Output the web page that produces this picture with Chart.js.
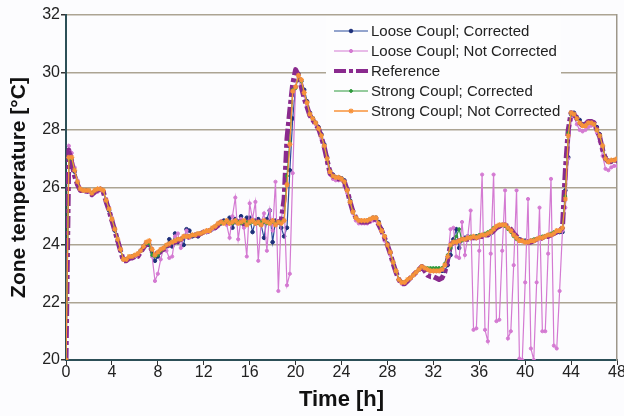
<!DOCTYPE html>
<html>
<head>
<meta charset="utf-8">
<title>Zone temperature</title>
<script src="https://cdn.jsdelivr.net/npm/chart.js@4.4.1/dist/chart.umd.min.js"></script>
<style>
  html, body { margin: 0; padding: 0; background: #fcfcfe; }
  #wrap { width: 624px; height: 416px; }
</style>
</head>
<body>
<div id="wrap"><canvas id="zoneChart"></canvas></div>
<script>
// Series names, in legend order
const seriesNames = [
    'Loose Coupl; Corrected',
    'Loose Coupl; Not Corrected',
    'Reference',
    'Strong Coupl; Corrected',
    'Strong Coupl; Not Corrected'
];

// Zone temperature [°C], one value every 15 min from 0 h to 48 h (4 values per row = 1 h)
const reference = [
    20.0, 27.3, 26.85, 26.4,    // 0 h
    26.1, 25.9, 25.9, 25.9,
    25.85, 25.75, 25.85, 25.9,
    25.95, 25.85, 25.5, 25.2,
    24.85, 24.5, 24.15, 23.8,   // 4 h
    23.45, 23.45, 23.55, 23.55,
    23.6, 23.6, 23.75, 23.9,
    24.05, 24.0, 23.8, 23.7,
    23.7, 23.8, 23.85, 23.95,   // 8 h
    24.0, 24.05, 24.1, 24.15,
    24.2, 24.25, 24.25, 24.3,
    24.3, 24.35, 24.35, 24.4,
    24.45, 24.45, 24.5, 24.55,  // 12 h
    24.6, 24.7, 24.8, 24.8,
    24.8, 24.8, 24.85, 24.8,
    24.8, 24.8, 24.75, 24.8,
    24.8, 24.75, 24.8, 24.8,    // 16 h
    24.8, 24.8, 24.75, 24.8,
    24.8, 24.75, 24.8, 24.85,
    25.6, 27.7, 28.7, 29.6,
    30.1, 29.9, 29.5, 29.1,     // 20 h
    28.8, 28.5, 28.35, 28.2,
    28.05, 27.75, 27.4, 26.95,
    26.5, 26.4, 26.33, 26.3,
    26.32, 26.2, 25.9, 25.5,    // 24 h
    25.15, 24.95, 24.85, 24.8,
    24.8, 24.8, 24.85, 24.9,
    24.9, 24.7, 24.5, 24.25,
    24.0, 23.7, 23.35, 23.05,   // 28 h
    22.8, 22.65, 22.65, 22.75,
    22.85, 22.95, 23.05, 23.15,
    23.25, 23.1, 22.95, 22.9,
    22.9, 22.85, 22.8, 22.85,   // 32 h
    23.05, 23.5, 24.0, 24.1,
    24.1, 24.15, 24.15, 24.2,
    24.2, 24.25, 24.25, 24.25,
    24.3, 24.3, 24.35, 24.35,   // 36 h
    24.4, 24.5, 24.6, 24.65,
    24.7, 24.7, 24.65, 24.55,
    24.4, 24.3, 24.2, 24.15,
    24.15, 24.1, 24.1, 24.15,   // 40 h
    24.2, 24.2, 24.25, 24.3,
    24.3, 24.35, 24.4, 24.45,
    24.5, 24.6, 26.6, 28.0,
    28.6, 28.55, 28.4, 28.25,   // 44 h
    28.15, 28.2, 28.3, 28.3,
    28.25, 28.0, 27.75, 27.3,
    27.0, 26.9, 26.9, 26.95,
    26.95                       // 48 h
];

const looseCorrected = [
    20.0, 27.0, 26.95, 26.55,
    26.15, 25.95, 25.9, 25.85,
    25.85, 25.8, 25.85, 25.9,
    25.95, 25.85, 25.5, 25.2,
    24.85, 24.5, 24.15, 23.8,
    23.5, 23.5, 23.55, 23.6,
    23.6, 23.65, 23.8, 23.95,
    24.05, 24.0, 23.75, 23.45,
    23.6, 23.75, 23.85, 23.95,
    24.2, 23.95, 24.4, 24.1,
    24.2, 24.0, 24.55, 24.5,
    24.3, 24.35, 24.3, 24.4,
    24.45, 24.45, 24.5, 24.55,
    24.6, 24.7, 24.75, 24.85,
    24.8, 24.95, 24.6, 24.9,
    24.8, 25.0, 24.7, 24.95,
    24.95, 24.45, 24.85, 24.9,
    24.7, 24.25, 24.9, 25.2,
    24.1, 24.85, 24.8, 24.6,
    24.3, 24.6, 26.6, 28.4,
    29.5, 29.95, 29.7, 29.4,
    29.0, 28.6, 28.4, 28.25,
    28.1, 27.85, 27.5, 27.05,
    26.6, 26.45, 26.35, 26.35,
    26.32, 26.25, 25.95, 25.55,
    25.2, 24.95, 24.85, 24.8,
    24.8, 24.85, 24.85, 24.95,
    24.95, 24.8, 24.55, 24.3,
    24.05, 23.75, 23.4, 23.1,
    22.8, 22.7, 22.7, 22.75,
    22.85, 22.95, 23.05, 23.15,
    23.25, 23.2, 23.15, 23.1,
    23.1, 23.1, 23.1, 23.1,
    23.1, 23.3, 23.65, 24.2,
    24.55, 23.9, 24.2, 24.25,
    24.3, 24.25, 24.25, 24.3,
    24.3, 24.3, 24.35, 24.4,
    24.4, 24.5, 24.6, 24.65,
    24.7, 24.7, 24.6, 24.5,
    24.35, 24.25, 24.2, 24.15,
    24.15, 24.1, 24.15, 24.15,
    24.2, 24.25, 24.25, 24.3,
    24.3, 24.35, 24.4, 24.45,
    24.45, 24.45, 25.9, 27.05,
    28.55, 28.6, 28.45, 28.35,
    28.2, 28.15, 28.25, 28.3,
    28.25, 28.1, 27.85, 27.4,
    27.05, 26.9, 26.9, 26.95,
    26.95
];

const looseNotCorrected = [
    20.0, 27.45, 27.2, 26.7,
    26.25, 25.95, 25.9, 25.85,
    25.85, 25.75, 25.8, 25.85,
    25.9, 25.8, 25.6, 25.3,
    24.95, 24.6, 24.2, 23.85,
    23.5, 23.45, 23.5, 23.55,
    23.6, 23.65, 23.8, 23.95,
    24.1, 24.1, 23.6, 22.75,
    23.0, 23.5, 23.9, 23.8,
    23.55, 23.6, 24.3, 24.4,
    23.9, 24.3, 24.5, 24.25,
    24.35, 24.35, 24.35, 24.4,
    24.45, 24.45, 24.5, 24.55,
    24.6, 24.65, 24.75, 24.8,
    24.7, 24.25, 25.0, 25.65,
    24.2, 24.9, 24.6, 23.6,
    25.45, 24.9, 25.5, 23.45,
    24.8, 25.1, 23.8, 25.2,
    24.5, 26.2, 22.4, 24.9,
    25.5, 22.6, 23.0, 26.5,
    29.5, 29.85, 29.6, 29.2,
    28.85, 28.5, 28.35, 28.2,
    28.0, 27.7, 27.35, 26.85,
    26.45, 26.3, 26.25, 26.25,
    26.25, 26.05, 25.8, 25.45,
    25.1, 24.85, 24.75, 24.75,
    24.75, 24.75, 24.8, 24.85,
    24.85, 24.7, 24.45, 24.15,
    23.95, 23.65, 23.35, 23.05,
    22.75, 22.65, 22.65, 22.75,
    22.85, 22.95, 23.05, 23.15,
    23.25, 23.2, 23.15, 23.1,
    23.1, 23.1, 23.1, 23.15,
    23.3, 23.5, 24.55, 24.6,
    23.6, 23.55, 24.8, 23.65,
    24.3, 25.2, 21.05, 21.1,
    23.8, 26.45, 21.05, 20.65,
    23.7, 26.45, 21.35, 21.4,
    23.8, 25.9, 20.75, 21.0,
    23.3, 25.9, 20.05, 20.0,
    22.7, 25.6, 20.4, 20.0,
    22.7, 25.3, 21.0, 21.0,
    23.7, 26.3, 20.5, 20.4,
    22.4, 24.5, 25.3, 27.0,
    28.35, 28.5, 28.2, 28.0,
    27.95, 28.0, 28.1, 28.15,
    28.15, 27.9, 27.6, 27.1,
    26.65, 26.6, 26.7, 26.75,
    26.75
];

const strongCorrected = [
    20.0, 27.0, 27.0, 26.6,
    26.2, 25.95, 25.9, 25.9,
    25.9, 25.8, 25.9, 25.95,
    25.95, 25.9, 25.55, 25.25,
    24.9, 24.55, 24.2, 23.85,
    23.5, 23.5, 23.6, 23.6,
    23.65, 23.7, 23.8, 23.95,
    24.05, 24.05, 23.65, 23.6,
    23.65, 23.8, 23.9, 24.0,
    24.05, 24.1, 24.15, 24.2,
    24.2, 24.3, 24.3, 24.3,
    24.35, 24.35, 24.4, 24.4,
    24.45, 24.5, 24.5, 24.6,
    24.65, 24.75, 24.75, 24.8,
    24.8, 24.8, 24.75, 24.8,
    24.8, 24.75, 24.8, 24.8,
    24.75, 24.8, 24.8, 24.75,
    24.8, 24.8, 24.75, 24.8,
    24.8, 24.75, 24.8, 24.8,
    24.85, 26.4, 27.6, 29.4,
    29.45, 29.9, 29.7, 29.3,
    28.95, 28.55, 28.4, 28.25,
    28.05, 27.8, 27.45, 27.0,
    26.55, 26.4, 26.35, 26.35,
    26.3, 26.2, 25.9, 25.5,
    25.15, 24.95, 24.85, 24.85,
    24.85, 24.85, 24.9, 24.95,
    24.95, 24.75, 24.5, 24.3,
    24.0, 23.75, 23.4, 23.1,
    22.8, 22.7, 22.7, 22.8,
    22.85, 22.95, 23.05, 23.15,
    23.25, 23.2, 23.2, 23.2,
    23.2, 23.2, 23.2, 23.2,
    23.35, 23.65, 23.9, 24.1,
    24.3, 24.55, 24.15, 24.2,
    24.25, 24.3, 24.3, 24.3,
    24.35, 24.35, 24.4, 24.45,
    24.5, 24.6, 24.65, 24.7,
    24.7, 24.65, 24.55, 24.45,
    24.3, 24.2, 24.15, 24.15,
    24.1, 24.1, 24.15, 24.2,
    24.2, 24.25, 24.3, 24.3,
    24.35, 24.4, 24.45, 24.5,
    24.5, 24.6, 25.7, 27.9,
    28.6, 28.55, 28.4, 28.25,
    28.15, 28.15, 28.25, 28.25,
    28.2, 28.0, 27.8, 27.45,
    27.0, 26.9, 26.95, 26.95,
    27.0
];

const strongNotCorrected = [
    20.0, 27.05, 27.05, 26.6,
    26.2, 25.95, 25.9, 25.9,
    25.9, 25.8, 25.9, 25.95,
    25.95, 25.9, 25.55, 25.25,
    24.9, 24.55, 24.2, 23.85,
    23.5, 23.5, 23.6, 23.6,
    23.65, 23.7, 23.8, 23.95,
    24.1, 24.15, 23.85, 23.65,
    23.75, 23.85, 23.9, 24.0,
    24.05, 24.1, 24.15, 24.2,
    24.2, 24.3, 24.3, 24.3,
    24.35, 24.35, 24.4, 24.4,
    24.45, 24.5, 24.5, 24.6,
    24.65, 24.75, 24.8, 24.75,
    24.85, 24.75, 24.8, 24.85,
    24.75, 24.8, 24.85, 24.7,
    24.8, 24.85, 24.75, 24.8,
    24.7, 24.85, 24.8, 24.75,
    24.85, 24.7, 24.8, 24.75,
    24.85, 26.1, 27.5, 29.35,
    29.5, 29.9, 29.75, 29.3,
    28.95, 28.55, 28.4, 28.25,
    28.05, 27.8, 27.45, 27.0,
    26.55, 26.4, 26.35, 26.35,
    26.3, 26.2, 25.9, 25.5,
    25.15, 24.95, 24.85, 24.85,
    24.85, 24.85, 24.9, 24.95,
    24.95, 24.75, 24.5, 24.3,
    24.0, 23.75, 23.4, 23.1,
    22.8, 22.7, 22.7, 22.8,
    22.85, 22.95, 23.05, 23.15,
    23.25, 23.2, 23.15, 23.1,
    23.1, 23.1, 23.1, 23.15,
    23.3, 23.6, 24.0, 24.1,
    24.1, 24.15, 24.2, 24.2,
    24.25, 24.25, 24.3, 24.25,
    24.3, 24.35, 24.35, 24.4,
    24.45, 24.55, 24.65, 24.7,
    24.7, 24.7, 24.6, 24.5,
    24.35, 24.25, 24.15, 24.15,
    24.1, 24.1, 24.15, 24.15,
    24.2, 24.25, 24.25, 24.3,
    24.35, 24.35, 24.4, 24.5,
    24.5, 24.6, 25.6, 27.8,
    28.6, 28.55, 28.4, 28.25,
    28.15, 28.15, 28.25, 28.25,
    28.2, 28.0, 27.8, 27.45,
    27.0, 26.9, 26.95, 26.95,
    27.0
];

// Sampling interval of the simulation output
const STEP_H = 0.25;
const hours = reference.map((_, i) => i * STEP_H);

const xTicks = [0, 4, 8, 12, 16, 20, 24, 28, 32, 36, 40, 44, 48];
const yTicks = [20, 22, 24, 26, 28, 30, 32];

const FONT = '"Liberation Sans", Arial, Helvetica, sans-serif';

// Legend drawn inside the plot, top right, like the original figure
const insideLegend = {
    id: 'insideLegend',
    afterDatasetsDraw(chart) {
        const ctx = chart.ctx;
        const boxX = 326, boxY = 16, boxW = 235, boxH = 112;
        ctx.save();
        ctx.fillStyle = '#fdfdfe';
        ctx.fillRect(boxX, boxY, boxW, boxH);
        ctx.font = '15px ' + FONT;
        ctx.textBaseline = 'middle';
        ctx.textAlign = 'left';
        chart.data.datasets.forEach((ds, i) => {
            const y = 31 + i * 20;
            ctx.strokeStyle = ds.borderColor;
            ctx.lineWidth = Math.min(ds.borderWidth, 4);
            ctx.setLineDash(ds.borderDash || []);
            ctx.beginPath();
            ctx.moveTo(334, y);
            ctx.lineTo(368, y);
            ctx.stroke();
            ctx.setLineDash([]);
            if (ds.pointRadius > 0) {
                ctx.fillStyle = ds.pointBackgroundColor;
                ctx.strokeStyle = ds.pointBorderColor;
                ctx.lineWidth = ds.pointBorderWidth;
                Chart.helpers.drawPoint(ctx, {
                    pointStyle: ds.pointStyle,
                    radius: ds.pointRadius,
                    rotation: 0,
                    borderWidth: ds.pointBorderWidth
                }, 351, y);
            }
            ctx.fillStyle = '#222';
            ctx.fillText(ds.label, 371, y + 1);
        });
        ctx.restore();
    }
};

function series(label, data, color, extra) {
    return Object.assign({
        label: label,
        data: data,
        borderColor: color,
        backgroundColor: color,
        pointBackgroundColor: color,
        pointBorderColor: color,
        borderWidth: 1.2,
        pointRadius: 1.6,
        pointBorderWidth: 1,
        pointStyle: 'circle',
        tension: 0,
        fill: false
    }, extra || {});
}

new Chart(document.getElementById('zoneChart'), {
    type: 'line',
    data: {
        labels: hours,
        datasets: [
            series(seriesNames[0], looseCorrected, '#2b4c9c', {
                order: 5, pointBackgroundColor: '#1d2f7a', pointBorderColor: '#1d2f7a', pointRadius: 1.8
            }),
            series(seriesNames[1], looseNotCorrected, '#d47ad2', { order: 4 }),
            series(seriesNames[2], reference, '#8a2a8e', {
                order: 3, borderWidth: 5, pointRadius: 0, borderDash: [12, 3, 4, 3],
                borderJoinStyle: 'round'
            }),
            series(seriesNames[3], strongCorrected, '#2f9a3c', { order: 2, pointRadius: 1.4 }),
            series(seriesNames[4], strongNotCorrected, '#f7923a', {
                order: 1, borderWidth: 1.3, pointStyle: 'star', pointRadius: 2.6, pointBorderWidth: 1.2
            })
        ]
    },
    options: {
        responsive: true,
        maintainAspectRatio: false,
        animation: false,
        events: [],
        layout: { padding: { left: 3, top: 15, right: 7, bottom: 0 } },
        plugins: {
            legend: { display: false },
            tooltip: { enabled: false }
        },
        scales: {
            x: {
                type: 'linear',
                min: 0,
                max: 48,
                afterBuildTicks: (scale) => { scale.ticks = xTicks.map(v => ({ value: v })); },
                afterFit: (scale) => { scale.height = 56; scale.paddingRight = 0; },
                ticks: { font: { family: FONT, size: 16 }, color: '#222', padding: -2, maxRotation: 0 },
                grid: { drawOnChartArea: false, tickLength: 5, tickColor: '#333', lineWidth: 1 },
                border: { color: '#2c4f57', width: 2 },
                title: {
                    display: true,
                    text: 'Time [h]',
                    font: { family: FONT, size: 22, weight: 'bold' },
                    color: '#111',
                    padding: { top: 0, bottom: 3 }
                }
            },
            y: {
                min: 20,
                max: 32,
                afterBuildTicks: (scale) => { scale.ticks = yTicks.map(v => ({ value: v })); },
                afterFit: (scale) => { scale.width = 63; },
                ticks: { font: { family: FONT, size: 16 }, color: '#222', padding: 1 },
                grid: { color: '#aca493', lineWidth: 1.5, tickLength: 5, tickColor: '#333' },
                border: { color: '#2c4f57', width: 2 },
                title: {
                    display: true,
                    text: 'Zone temperature [°C]',
                    font: { family: FONT, size: 21, weight: 'bold' },
                    color: '#111',
                    padding: { top: 4, bottom: 4 }
                }
            },
            yRight: {
                position: 'right',
                min: 20,
                max: 32,
                ticks: { display: false },
                grid: { drawOnChartArea: false, drawTicks: false },
                border: { color: '#9d978b', width: 1.5 },
                afterFit: (scale) => { scale.width = 0; }
            }
        }
    },
    plugins: [insideLegend]
});
</script>
</body>
</html>
